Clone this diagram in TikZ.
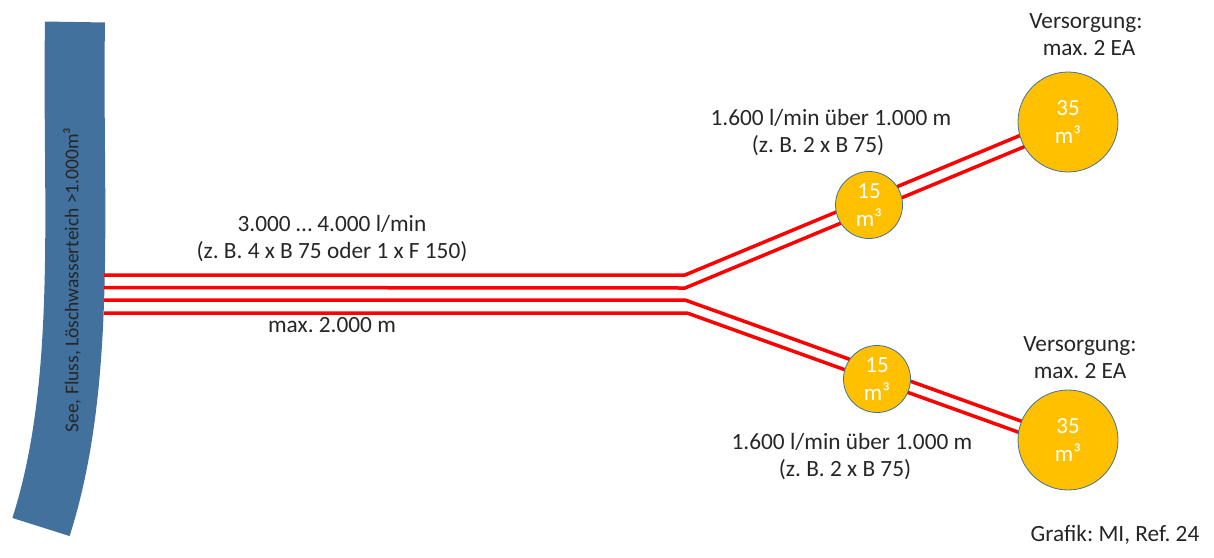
\documentclass[tikz,border=0pt]{standalone}
\usepackage{fontspec}
\setmainfont{Carlito}
\frenchspacing
\definecolor{riverblue}{RGB}{65,113,156}
\definecolor{tankgold}{RGB}{255,192,0}

\begin{document}
\begin{tikzpicture}[x=1pt,y=-1pt,
                    hose/.style={draw=red,line width=3.5pt},
                    tank/.style={circle,draw=riverblue,line width=0.8pt,fill=tankgold,
                                 text=white,inner sep=0pt,align=center,
                                 font=\fontsize{23}{28}\selectfont},
                    small/.style={tank,minimum size=67pt},
                    big/.style={tank,minimum size=100pt},
                    lbl/.style={align=center,text=black!85,
                                font=\fontsize{23.3}{27}\selectfont}]
  \useasboundingbox (0,0) rectangle (1214,557);

  % river
  \draw[riverblue,line width=60pt] (75,22) .. controls (72,200) and (88,380) .. (41,527);
  \node[rotate=90,text=black!85,font=\fontsize{19.5}{22}\selectfont] (water) at (72,280)
       {See, Fluss, Löschwasserteich >1.000m³};

  \coordinate (a1) at (104,275);
  \coordinate (a2) at (104,287.5);
  \coordinate (a3) at (104,300);
  \coordinate (a4) at (104,313);
  \coordinate (j1) at (685,275);
  \coordinate (j2) at (685,288);
  \coordinate (j3) at (685,300);
  \coordinate (j4) at (687,313);
  \coordinate (e1) at (1068,115.5);
  \coordinate (e2) at (1068,128.5);
  \coordinate (e3) at (1068,438);
  \coordinate (e4) at (1068,450);

  \draw[hose] (a1) -- (j1) -- (e1);
  \draw[hose] (a2) -- (j2) -- (e2);
  \draw[hose] (a3) -- (j3) -- (e3);
  \draw[hose] (a4) -- (j4) -- (e4);

  \node[small] (T1) at (869,205) {15\\m³};
  \node[small] (T2) at (877,379) {15\\m³};
  \node[big]   (B1) at (1068,122) {35\\m³};
  \node[big]   (B2) at (1068,440) {35\\m³};

  \node[lbl] (flow) at (332,239) {3.000 … 4.000 l/min\\(z. B. 4 x B 75 oder 1 x F 150)};
  \node[lbl] (len)  at (332,325) {max. 2.000 m};
  \node[lbl] (up)   at (831,133) {1.600 l/min über 1.000 m\\(z. B. 2 x B 75)\hspace*{26pt}};
  \node[lbl] (low)  at (852,457) {1.600 l/min über 1.000 m\\(z. B. 2 x B 75)\hspace*{14pt}};
  \node[lbl] (vs1)  at (1086,35) {Versorgung:\\\hspace*{6pt}max. 2 EA};
  \node[lbl] (vs2)  at (1080,358) {Versorgung:\\max. 2 EA};
  \node[lbl] (src)  at (1115,535) {Grafik: MI, Ref. 24};
\end{tikzpicture}
\end{document}
